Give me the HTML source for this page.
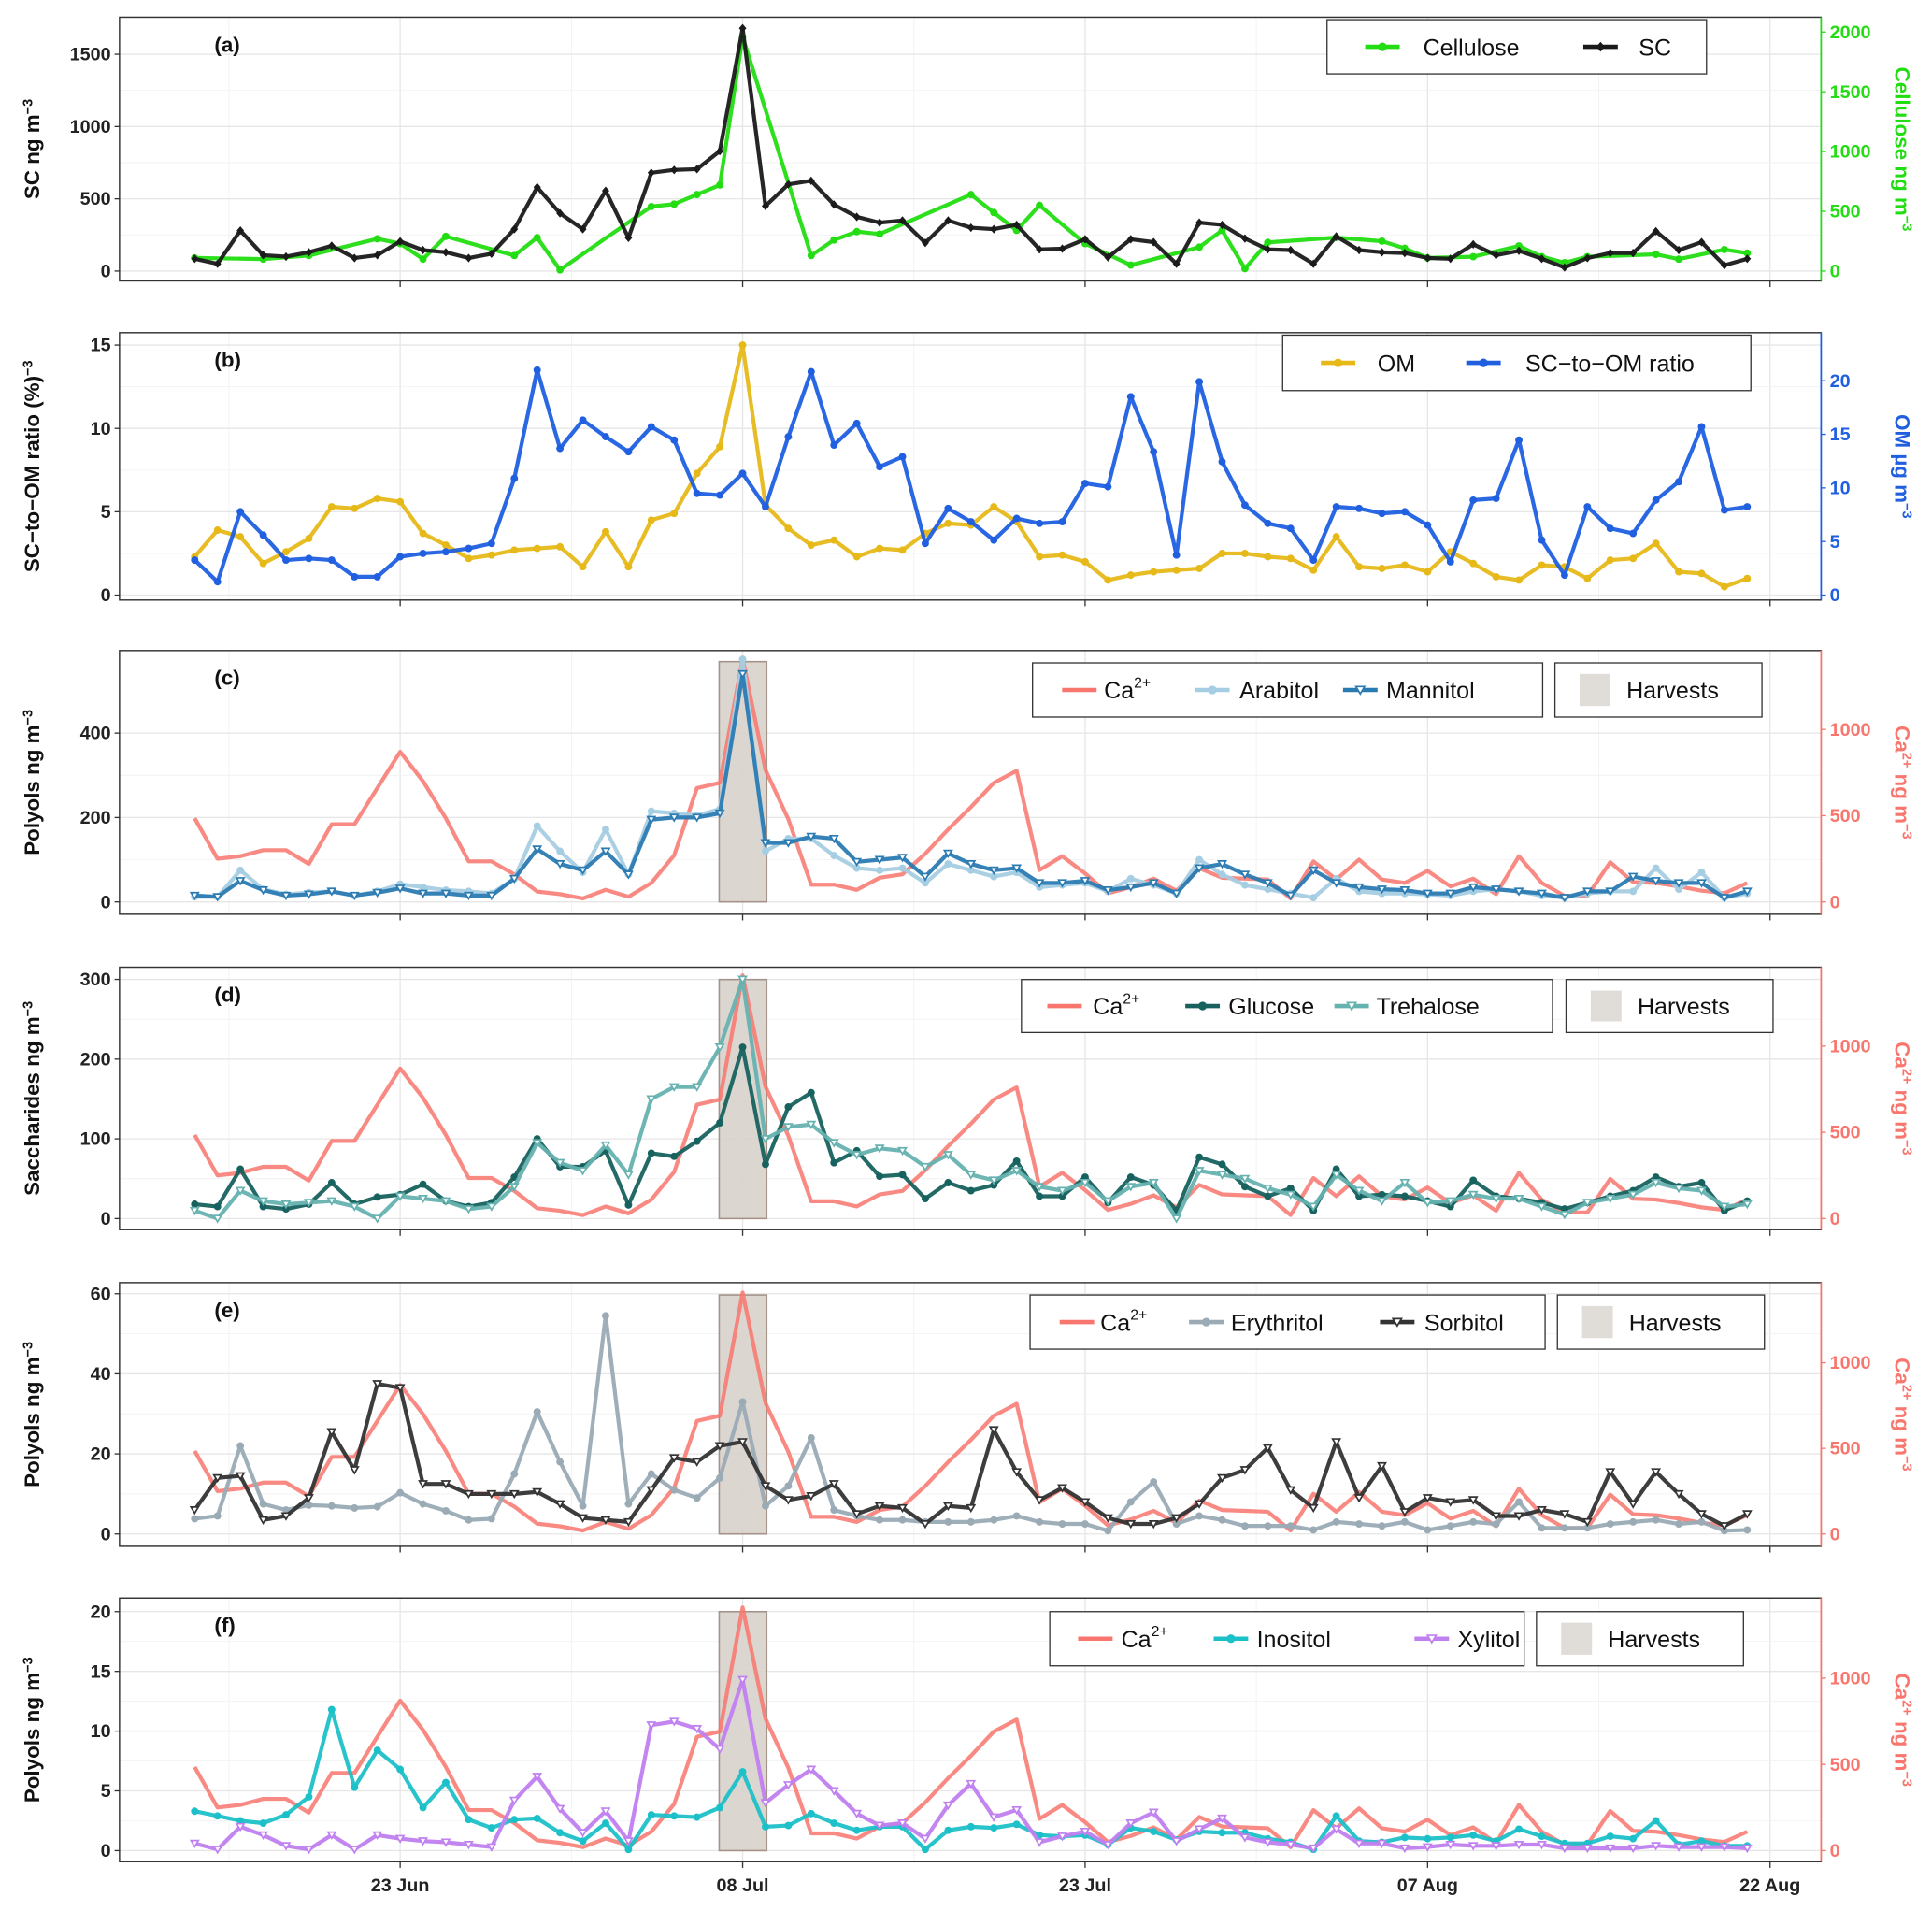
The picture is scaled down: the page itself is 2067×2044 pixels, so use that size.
<!DOCTYPE html>
<html><head><meta charset="utf-8"><style>
html,body{margin:0;padding:0;background:#fff}
svg{display:block}
text{font-family:"Liberation Sans",sans-serif}
</style></head><body>
<svg id="chart" width="2067" height="2044" viewBox="0 0 1568 1551" preserveAspectRatio="none" xmlns="http://www.w3.org/2000/svg"></svg>
<script>
const dateLabels=["23 Jun","08 Jul","23 Jul","07 Aug","22 Aug"];
const dateOffsets=[9,24,39,54,69]; // day index from 14 Jun
const sc=[85,50,280,110,100,130,175,90,110,205,145,130,90,120,290,580,400,290,555,230,680,700,705,830,1680,450,600,625,460,375,335,350,195,350,300,290,320,150,155,220,95,220,200,50,335,320,225,150,145,50,240,145,130,125,90,85,185,110,140,85,25,90,125,125,275,145,200,40,85];
const cellulose=[110,null,null,100,null,130,null,null,270,230,100,290,null,null,130,280,10,null,null,null,540,560,640,720,1960,null,null,130,260,330,310,null,null,null,640,490,340,550,null,230,null,50,null,null,200,340,20,240,null,null,280,null,250,190,110,null,120,null,210,120,70,120,null,null,140,100,null,180,150];
const om=[2.3,3.9,3.5,1.9,2.6,3.4,5.3,5.2,5.8,5.6,3.7,3.0,2.2,2.4,2.7,2.8,2.9,1.7,3.8,1.7,4.5,4.9,7.3,8.9,15,5.4,4.0,3.0,3.3,2.3,2.8,2.7,3.7,4.3,4.2,5.3,4.4,2.3,2.4,2.0,0.9,1.2,1.4,1.5,1.6,2.5,2.5,2.3,2.2,1.5,3.5,1.7,1.6,1.8,1.4,2.6,1.9,1.1,0.9,1.8,1.7,1.0,2.1,2.2,3.1,1.4,1.3,0.5,1.0];
const ratio=[2.1,0.8,5.0,3.6,2.1,2.2,2.1,1.1,1.1,2.3,2.5,2.6,2.8,3.1,7.0,13.5,8.8,10.5,9.5,8.6,10.1,9.3,6.1,6.0,7.3,5.3,9.5,13.4,9.0,10.3,7.7,8.3,3.1,5.2,4.4,3.3,4.6,4.3,4.4,6.7,6.5,11.9,8.6,2.4,12.8,8.0,5.4,4.3,4.0,2.1,5.3,5.2,4.9,5.0,4.2,2.0,5.7,5.8,9.3,3.3,1.2,5.3,4.0,3.7,5.7,6.8,10.1,5.1,5.3];
const ca=[485,250,265,300,300,220,450,450,660,870,700,485,235,235,160,60,45,20,70,30,110,270,660,690,1410,765,480,100,100,70,140,160,280,420,550,690,760,185,265,165,50,85,135,65,195,140,135,130,20,235,130,245,130,110,180,90,135,45,265,110,35,35,230,115,110,90,65,50,110];
const arabitol=[12,12,75,30,18,22,25,15,25,42,35,28,25,20,55,180,120,70,172,65,215,210,205,220,575,120,150,150,110,80,75,80,45,90,75,60,70,35,40,45,25,55,40,20,100,65,40,30,20,10,55,25,20,20,18,15,25,30,25,15,10,20,25,25,80,30,70,10,20];
const mannitol=[15,12,50,28,15,18,25,15,22,32,20,20,15,15,55,125,90,75,120,65,195,200,200,210,540,140,140,155,150,95,100,105,60,115,90,75,80,45,45,50,28,35,45,20,80,90,65,45,15,75,45,35,30,28,20,20,35,30,25,20,10,25,25,60,50,45,45,10,25];
const glucose=[18,15,62,15,12,18,45,18,27,30,43,22,15,20,52,100,65,65,85,17,82,78,97,120,215,68,140,158,70,85,53,55,25,45,35,42,72,28,28,52,20,52,42,10,77,68,40,28,38,10,62,28,30,28,22,15,48,28,25,20,12,20,28,35,52,40,45,10,22];
const trehalose=[10,0,35,22,18,20,22,15,0,28,25,22,12,15,40,95,70,60,92,55,150,165,165,215,300,100,115,118,95,80,88,85,65,80,55,48,60,40,35,45,22,40,45,0,60,55,50,38,30,15,55,35,22,45,20,22,30,25,25,15,5,20,25,30,45,38,35,15,18];
const erythritol=[3.8,4.5,22,7.5,6,7.2,7,6.5,6.8,10.3,7.5,5.8,3.5,3.8,15,30.5,18,7,54.5,7.5,15,11,9,14,33,7,12,24,6,4.5,3.5,3.5,3,3,3,3.5,4.5,3,2.5,2.5,0.8,8,13,2.5,4.5,3.5,2,2,2,1,3,2.5,2,3,1,2,3,2.5,8,1.5,1.5,1.5,2.5,3,3.5,2.5,3,0.8,1];
const sorbitol=[6,14,14.5,3.5,4.5,9,25.5,16,37.5,36.5,12.5,12.5,10,10,10,10.5,7.5,4,3.5,3,11,19,18,22,23,12,8.5,9.5,12.5,5,7,6.5,2.5,7,6.5,26,15.5,8.5,11.5,8,4,2.5,2.5,4,7.5,14,16,21.5,11,6.5,23,9,17,5.5,9,8,8.5,4.5,4.5,6,5,3,15.5,7.5,15.5,10,5,2,5];
const inositol=[3.3,2.9,2.5,2.3,3.0,4.5,11.8,5.3,8.4,6.8,3.6,5.7,2.6,1.9,2.6,2.7,1.5,0.8,2.3,0.1,3.0,2.9,2.8,3.6,6.6,2.0,2.1,3.1,2.3,1.7,2.0,2.0,0.1,1.7,2.0,1.9,2.2,1.3,1.2,1.3,0.5,1.9,1.6,0.9,1.6,1.5,1.5,1.0,0.7,0.1,2.9,0.8,0.7,1.1,1.0,1.1,1.3,0.8,1.8,1.2,0.6,0.6,1.2,1.0,2.5,0.5,0.8,0.4,0.4];
const xylitol=[0.6,0.1,2.0,1.3,0.4,0.1,1.3,0.1,1.3,1.0,0.8,0.7,0.5,0.3,4.2,6.2,3.5,1.5,3.3,0.8,10.5,10.8,10.2,8.5,14.3,4.0,5.5,6.8,5.0,3.1,2.1,2.3,1.0,3.8,5.6,2.8,3.4,0.7,1.2,1.6,0.5,2.3,3.2,0.8,1.8,2.7,1.1,0.7,0.5,0.2,1.8,0.6,0.6,0.2,0.3,0.5,0.4,0.4,0.5,0.5,0.2,0.2,0.2,0.2,0.4,0.3,0.3,0.3,0.2];
const harvestDays=[23,25];

const NS="http://www.w3.org/2000/svg";
const svg=document.getElementById('chart');
const X0=158, DX=18.53, BL=97, BR=1478;
const xs=i=>X0+i*DX;
function el(tag,attrs,parent){const e=document.createElementNS(NS,tag);for(const k in attrs)e.setAttribute(k,attrs[k]);(parent||svg).appendChild(e);return e;}
const CA="#f8766d";
const panels=[
 {id:'a',top:14,bot:228,z:220,lk:0.1173,lt:[0,500,1000,1500],rk:0.097,rt:[0,500,1000,1500,2000],rc:"#22dd11",lt_title:"SC  ng m",rt_title:"Cellulose  ng m",
  series:[{d:cellulose,ax:'r',c:"#22dd11",m:'circle',name:'cellulose-line'},{d:sc,ax:'l',c:"#1a1a1a",m:'diamond',name:'sc-line'}],
  legend:{x:1077,y:16,w:308,h:44,items:[[1108,"#22dd11",'circle',"Cellulose",1155],[1285,"#1a1a1a",'diamond',"SC",1330]]}},
 {id:'b',top:270,bot:487,z:483,lk:13.53,lt:[0,5,10,15],rk:8.7,rt:[0,5,10,15,20],rc:"#1f5fe0",lt_title:"SC−to−OM ratio (%)",rt_title:"OM  µg m",
  series:[{d:om,ax:'l',c:"#e6b818",m:'circle',name:'om-line'},{d:ratio,ax:'l',c:"#1f5fe0",m:'circle',name:'sc-to-om-ratio-line'}],
  legend:{x:1041,y:272,w:380,h:45,items:[[1072,"#e6b818",'circle',"OM",1118],[1190,"#1f5fe0",'circle',"SC−to−OM ratio",1238]]}},
 {id:'c',top:528,bot:742,z:732,lk:0.3425,lt:[0,200,400],rk:0.14,rt:[0,500,1000],rc:CA,lt_title:"Polyols  ng m",ca:true,harvest:537,
  series:[{d:arabitol,ax:'l',c:"#a6cee3",m:'circle',name:'arabitol-line'},{d:mannitol,ax:'l',c:"#2b7bb3",m:'tri',name:'mannitol-line'}],
  legend:{x:838,y:538,w:414,h:44,items:[[862,CA,'none',"Ca",896],[970,"#a6cee3",'circle',"Arabitol",1006],[1090,"#2b7bb3",'tri',"Mannitol",1125]],hx:1262}},
 {id:'d',top:785,bot:998,z:989,lk:0.647,lt:[0,100,200,300],rk:0.14,rt:[0,500,1000],rc:CA,lt_title:"Saccharides ng m",ca:true,harvest:795,
  series:[{d:glucose,ax:'l',c:"#17625f",m:'circle',name:'glucose-line'},{d:trehalose,ax:'l',c:"#66b2b0",m:'tri',name:'trehalose-line'}],
  legend:{x:829,y:795,w:431,h:43,items:[[850,CA,'none',"Ca",887],[962,"#17625f",'circle',"Glucose",997],[1083,"#66b2b0",'tri',"Trehalose",1117]],hx:1271}},
 {id:'e',top:1041,bot:1255,z:1245,lk:3.25,lt:[0,20,40,60],rk:0.139,rt:[0,500,1000],rc:CA,lt_title:"Polyols  ng m",ca:true,harvest:1051,
  series:[{d:erythritol,ax:'l',c:"#9aabb5",m:'circle',name:'erythritol-line'},{d:sorbitol,ax:'l',c:"#333333",m:'tri',name:'sorbitol-line'}],
  legend:{x:836,y:1051,w:418,h:44,items:[[860,CA,'none',"Ca",893],[965,"#9aabb5",'circle',"Erythritol",999],[1120,"#333333",'tri',"Sorbitol",1156]],hx:1264}},
 {id:'f',top:1297,bot:1511,z:1502,lk:9.7,lt:[0,5,10,15,20],rk:0.14,rt:[0,500,1000],rc:CA,lt_title:"Polyols  ng m",ca:true,harvest:1308,
  series:[{d:inositol,ax:'l',c:"#1cc0c8",m:'circle',name:'inositol-line'},{d:xylitol,ax:'l',c:"#c080f0",m:'tri',name:'xylitol-line'}],
  legend:{x:852,y:1308,w:385,h:44,items:[[875,CA,'none',"Ca",910],[985,"#1cc0c8",'circle',"Inositol",1020],[1148,"#c080f0",'tri',"Xylitol",1183]],hx:1247}}
];
function marker(g,m,x,y,c,s){
  if(m==='circle')return el('circle',{cx:x,cy:y,r:s,fill:c},g);
  if(m==='diamond')return el('polygon',{points:`${x},${y-s-0.5} ${x+s},${y} ${x},${y+s+0.5} ${x-s},${y}`,fill:c},g);
  if(m==='tri')return el('polygon',{points:`${x-s},${y-s*0.8} ${x+s},${y-s*0.8} ${x},${y+s*0.9}`,fill:'#fff',stroke:c,'stroke-width':1.3},g);
}
panels.forEach(p=>{
  const g=el('g',{});
  
  
  const yl=v=>p.z-v*p.lk, yr=v=>p.z-v*p.rk;
  const gg=el('g',{},g);
  
  
  for(let i=0;i<dateOffsets.length;i++){
    const x=xs(dateOffsets[i]);
    if(x<BR) el('line',{x1:x,x2:x,y1:p.top,y2:p.bot,stroke:'#e6e6e6','stroke-width':1},gg);
    const xm=xs(dateOffsets[i]-7.5);
    el('line',{x1:xm,x2:xm,y1:p.top,y2:p.bot,stroke:'#f2f2f2','stroke-width':0.7},gg);
  }
  p.lt.forEach((t,i)=>{const y=yl(t);el('line',{x1:BL,x2:BR,y1:y,y2:y,stroke:'#e6e6e6','stroke-width':1},gg);
    if(i<p.lt.length-1){const ym=yl((t+p.lt[i+1])/2);el('line',{x1:BL,x2:BR,y1:ym,y2:ym,stroke:'#f2f2f2','stroke-width':0.7},gg);}});
  if(p.harvest){const x1=xs(harvestDays[0])-0.5,x2=xs(harvestDays[1])+1;
    const r=el('rect',{x:x1,y:p.harvest,width:x2-x1,height:p.z-p.harvest,fill:'#d8d1cb','fill-opacity':0.9,stroke:'#a39388','stroke-width':1.2},g);
    
    }
  const draw=(arr,yf,c,m,name,w)=>{
    const pts=[];arr.forEach((v,i)=>{if(v!==null)pts.push([xs(i),yf(v)]);});
    const sg=el('g',{},g);
    
    
    el('polyline',{points:pts.map(q=>q.join(',')).join(' '),fill:'none',stroke:c,'stroke-width':w,'stroke-linejoin':'round','stroke-opacity':m==='none'?0.85:0.95},sg);
    if(m!=='none')pts.forEach(q=>marker(sg,m,q[0],q[1],c,3));
  };
  if(p.ca) draw(ca,yr,CA,'none','ca-line',3.2);
  p.series.forEach(s=>draw(s.d,s.ax==='l'?yl:yr,s.c,s.m,s.name,3.2));
  const bx=el('rect',{x:BL,y:p.top,width:BR-BL,height:p.bot-p.top,fill:'none',stroke:'#333','stroke-width':1.1},g);
  
  
  el('line',{x1:BR,x2:BR,y1:p.top,y2:p.bot,stroke:p.rc,'stroke-width':1.3},g);
  p.lt.forEach(t=>{const y=yl(t);el('line',{x1:BL-4,x2:BL,y1:y,y2:y,stroke:'#333'},g);
    const tx=el('text',{x:BL-7,y:y+5,'text-anchor':'end','font-size':15,'font-weight':'bold',fill:'#222'},g);tx.textContent=t;
    
    });
  p.rt.forEach(t=>{const y=yr(t);el('line',{x1:BR,x2:BR+4,y1:y,y2:y,stroke:p.rc},g);
    const tx=el('text',{x:BR+7,y:y+5,'font-size':15,'font-weight':'bold',fill:p.rc},g);tx.textContent=t;
    
    });
  dateOffsets.forEach(d=>{const x=xs(d);el('line',{x1:x,x2:x,y1:p.bot,y2:p.bot+5,stroke:'#333'},g);});
  const cy=(p.top+p.bot)/2;
  const lt=el('text',{x:0,y:0,transform:`translate(32,${cy}) rotate(-90)`,'text-anchor':'middle','font-size':17,'font-weight':'bold',fill:'#111'},g);
  lt.textContent=p.lt_title;
  const sp=el('tspan',{dy:-6,'font-size':11},lt);sp.textContent='−3';
  
  
  const rt=el('text',{x:0,y:0,transform:`translate(1538,${cy}) rotate(90)`,'text-anchor':'middle','font-size':17,'font-weight':'bold',fill:p.rc},g);
  if(p.ca){rt.textContent='Ca';const s1=el('tspan',{dy:-6,'font-size':11},rt);s1.textContent='2+';const s2=el('tspan',{dy:6},rt);s2.textContent='  ng m';}
  else rt.textContent=p.rt_title;
  const s3=el('tspan',{dy:-6,'font-size':11},rt);s3.textContent='−3';
  
  
  const pl=el('text',{x:174,y:p.top+28,'font-size':17,'font-weight':'bold',fill:'#111'},g);pl.textContent='('+p.id+')';
  
  
  const L=p.legend;const lg=el('g',{},g);
  
  
  el('rect',{x:L.x,y:L.y,width:L.w,height:L.h,fill:'#fff',stroke:'#333','stroke-width':1},lg);
  const my=L.y+L.h/2;
  L.items.forEach(it=>{
    const e=el('g',{},lg);
    
    
    el('line',{x1:it[0],x2:it[0]+28,y1:my,y2:my,stroke:it[1],'stroke-width':3.5},e);
    if(it[2]!=='none')marker(e,it[2],it[0]+14,my,it[1],3.5);
    const t=el('text',{x:it[4],y:my+7,'font-size':19,fill:'#111'},e);t.textContent=it[3];
    if(it[3]==='Ca'){const s=el('tspan',{dy:-9,'font-size':12},t);s.textContent='2+';}
  });
  if(L.hx){const h=el('g',{},g);
    
    
    el('rect',{x:L.hx,y:L.y,width:168,height:L.h,fill:'#fff',stroke:'#333'},h);
    el('rect',{x:L.hx+20,y:L.y+9,width:25,height:L.h-18,fill:'#e0dcd8'},h);
    const t=el('text',{x:L.hx+58,y:my+7,'font-size':19,fill:'#111'},h);t.textContent='Harvests';}
});
dateLabels.forEach((d,i)=>{const t=el('text',{x:xs(dateOffsets[i]),y:1535,'text-anchor':'middle','font-size':15,'font-weight':'bold',fill:'#222'});t.textContent=d;
  
  });
</script>
</body></html>
